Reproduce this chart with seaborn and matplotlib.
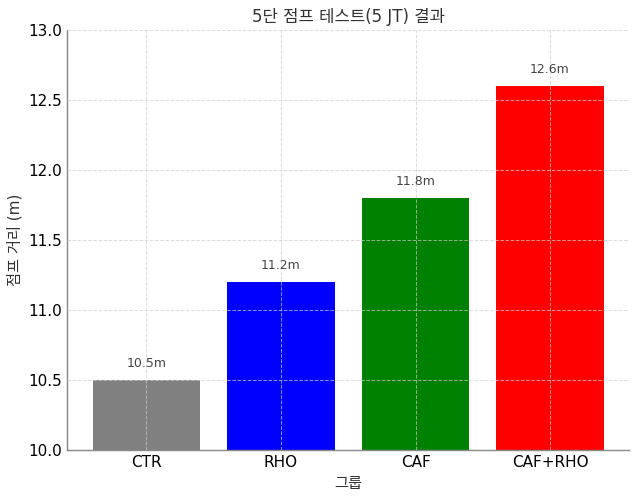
import matplotlib
matplotlib.use("Agg")
import matplotlib.pyplot as plt
import seaborn as sns
import pandas as pd

groups = ["CTR", "RHO", "CAF", "CAF+RHO"]
distances = [10.5, 11.2, 11.8, 12.6]
colors = ["gray", "blue", "green", "red"]
labels = [f"{v}m" for v in distances]

sns.set_style("white")
plt.rcParams['font.family'] = ['DejaVu Sans', 'Noto Sans CJK KR']

df = pd.DataFrame({"group": groups, "distance": distances})

fig, ax = plt.subplots(figsize=(6.39, 4.98), dpi=100)
sns.barplot(data=df, x="group", y="distance", hue="group", palette=colors,
            saturation=1, width=0.8, legend=False, ax=ax)
for p in ax.patches:
    p.set_edgecolor("none")

ax.set_xlim(-0.59, 3.59)
ax.set_ylim(10, 13)
for i, (v, t) in enumerate(zip(distances, labels)):
    ax.text(i, v + 0.12, t, ha="center", va="center", fontsize=9, color="#444444")

ax.set_title("5단 점프 테스트(5 JT) 결과", fontsize=12, color="#333333")
ax.set_xlabel("그룹", fontsize=11, color="#333333")
ax.set_ylabel("점프 거리 (m)", fontsize=11, color="#333333")

ax.set_axisbelow(False)
ax.grid(True, linestyle="--", color="#cccccc", linewidth=0.7, alpha=0.7)
for s in ["top", "right"]:
    ax.spines[s].set_visible(False)
for s in ["left", "bottom"]:
    ax.spines[s].set_color("#888888")
    ax.spines[s].set_linewidth(1.0)
ax.tick_params(direction="in", length=4, color="#333333", labelsize=11, labelcolor="black")

fig.subplots_adjust(left=0.105, right=0.985, top=0.94, bottom=0.096)
fig.savefig("out.png", dpi=100)
